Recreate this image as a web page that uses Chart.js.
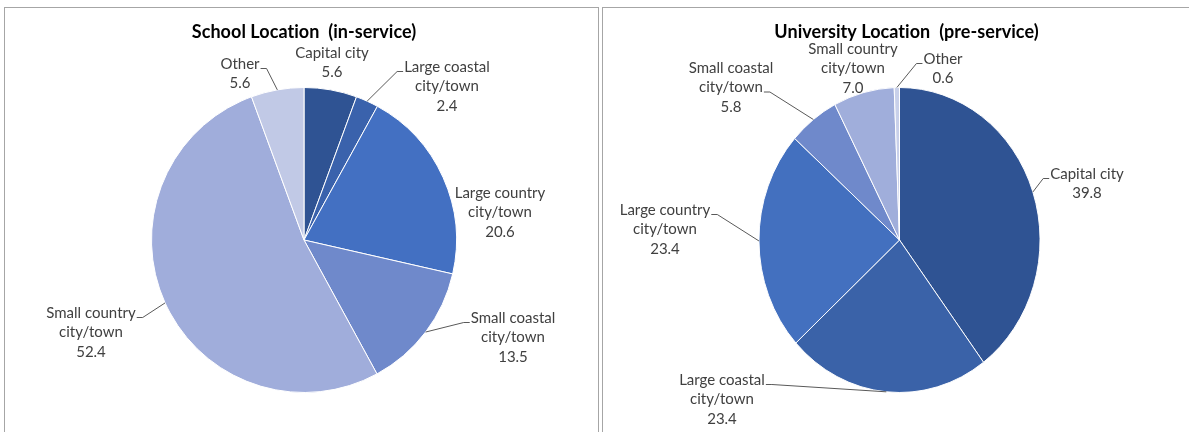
<!DOCTYPE html>
<html>
<head>
<meta charset="utf-8">
<script src="https://cdn.jsdelivr.net/npm/chart.js@4/dist/chart.umd.min.js"></script>
<style>
  html, body { margin: 0; padding: 0; background: #fff; }
  body { width: 1189px; height: 432px; position: relative; overflow: hidden; }
  .panel { position: absolute; border: 1px solid #a6a6a6; box-sizing: border-box; }
  #panelSchool { left: 4px; top: 7px; width: 595px; height: 440px; }
  #panelUni { left: 602px; top: 7px; width: 600px; height: 440px; }
  canvas { position: absolute; top: 0; }
  #schoolChart { left: 0; }
  #uniChart { left: 600px; }
</style>
</head>
<body>
<div class="panel" id="panelSchool"></div>
<div class="panel" id="panelUni"></div>
<canvas id="schoolChart" width="600" height="432"></canvas>
<canvas id="uniChart" width="589" height="432"></canvas>
<script>
// Location categories, in drawing order (clockwise from 12 o'clock)
const categories = [
  'Capital city',
  'Large coastal city/town',
  'Large country city/town',
  'Small coastal city/town',
  'Small country city/town',
  'Other'
];
// How each category name is broken over lines in its label
const categoryLines = [
  ['Capital city'],
  ['Large coastal', 'city/town'],
  ['Large country', 'city/town'],
  ['Small coastal', 'city/town'],
  ['Small country', 'city/town'],
  ['Other']
];
// Percentages
const schoolValues = [5.6, 2.4, 20.6, 13.5, 52.4, 5.6];
const universityValues = [39.8, 23.4, 23.4, 5.8, 7.0, 0.6];

const schoolTitle = 'School Location  (in-service)';
const universityTitle = 'University Location  (pre-service)';

// Slice fills
const schoolColors = ['#2f5393', '#3a62ac', '#4370c2', '#6f89cb', '#a0addb', '#c1c9e6'];
const universityColors = ['#2f5393', '#3a62a8', '#4370bf', '#6f89cb', '#a0aedb', '#c8d0ea'];

const FONT = 'Lato, "Open Sans", sans-serif';
const LABEL_FONT = '15px ' + FONT;
const TITLE_FONT = 'bold 18px ' + FONT;
const LINE_H = 19.5;

// Draws the pie (optionally squeezed horizontally), the title, the data
// labels and their leader lines.
function pieDecorations(cfg) {
  return {
    id: 'pieDecorations',
    beforeDatasetsDraw(chart) {
      if (cfg.sx !== 1) {
        const a = chart.chartArea;
        const cx = (a.left + a.right) / 2, cy = (a.top + a.bottom) / 2;
        const ctx = chart.ctx;
        ctx.save();
        ctx.translate(cx, cy);
        ctx.scale(cfg.sx, 1);
        ctx.translate(-cx, -cy);
      }
    },
    afterDatasetsDraw(chart) {
      if (cfg.sx !== 1) chart.ctx.restore();
    },
    afterDraw(chart) {
      const ctx = chart.ctx;
      const meta = chart.getDatasetMeta(0);
      const values = chart.data.datasets[0].data;
      ctx.save();
      ctx.textAlign = 'center';
      ctx.textBaseline = 'middle';
      ctx.fillStyle = '#000';
      ctx.font = TITLE_FONT;
      // a hair of letter spacing keeps "ti" from turning into a ligature
      if ('letterSpacing' in ctx) ctx.letterSpacing = '0.05px';
      ctx.fillText(cfg.title, cfg.titleX, cfg.titleY);
      if ('letterSpacing' in ctx) ctx.letterSpacing = '0px';

      ctx.font = LABEL_FONT;
      ctx.fillStyle = '#404040';
      ctx.strokeStyle = '#595959';
      ctx.lineWidth = 1;
      meta.data.forEach((arc, i) => {
        const p = cfg.place[i];
        const lines = categoryLines[i].concat([values[i].toFixed(1)]);
        lines.forEach((t, k) => ctx.fillText(t, p.x, p.y + k * LINE_H));
        if (p.tick) {
          const mid = (arc.startAngle + arc.endAngle) / 2;
          const ax = arc.x + cfg.sx * arc.outerRadius * Math.cos(mid);
          const ay = arc.y + arc.outerRadius * Math.sin(mid);
          const ln = p.tick.line || 0;
          const w = ctx.measureText(lines[ln]).width;
          const ty = p.y + ln * LINE_H + 4.5;
          const s = p.tick.side === 'left' ? -1 : 1;
          const x0 = p.x + s * (w / 2 + 1);
          const x1 = x0 + s * 6;
          ctx.beginPath();
          ctx.moveTo(x0, ty);
          ctx.lineTo(x1, ty);
          ctx.lineTo(ax, ay);
          ctx.stroke();
        }
      });
      ctx.restore();
    }
  };
}

function makePie(canvasId, values, colors, padding, deco) {
  return new Chart(document.getElementById(canvasId), {
    type: 'pie',
    data: {
      labels: categories,
      datasets: [{
        data: values,
        backgroundColor: colors,
        borderColor: '#ffffff',
        borderWidth: 1,
        hoverOffset: 0,
        clip: false
      }]
    },
    options: {
      responsive: false,
      animation: false,
      devicePixelRatio: 1,
      events: [],
      layout: { padding: padding },
      plugins: { legend: { display: false }, tooltip: { enabled: false } }
    },
    plugins: [pieDecorations(deco)]
  });
}

makePie('schoolChart', schoolValues, schoolColors,
  { left: 151, right: 143, top: 87, bottom: 39 },
  {
    sx: 1,
    title: schoolTitle, titleX: 304, titleY: 32,
    place: [
      { x: 332, y: 53 },
      { x: 447, y: 67, tick: { side: 'left' } },
      { x: 500, y: 193 },
      { x: 513, y: 318, tick: { side: 'left' } },
      { x: 91, y: 313, tick: { side: 'right' } },
      { x: 240, y: 64, tick: { side: 'right' } }
    ]
  });

makePie('uniChart', universityValues, universityColors,
  { left: 146.5, right: 136.5, top: 87, bottom: 39 },
  {
    sx: 141 / 153,
    title: universityTitle, titleX: 306.5, titleY: 32,
    place: [
      { x: 487, y: 174, tick: { side: 'left' } },
      { x: 122, y: 380, tick: { side: 'right' } },
      { x: 65, y: 210, tick: { side: 'right' } },
      { x: 131, y: 68, tick: { side: 'right', line: 1 } },
      { x: 253, y: 49 },
      { x: 343, y: 59, tick: { side: 'left' } }
    ]
  });
</script>
</body>
</html>
